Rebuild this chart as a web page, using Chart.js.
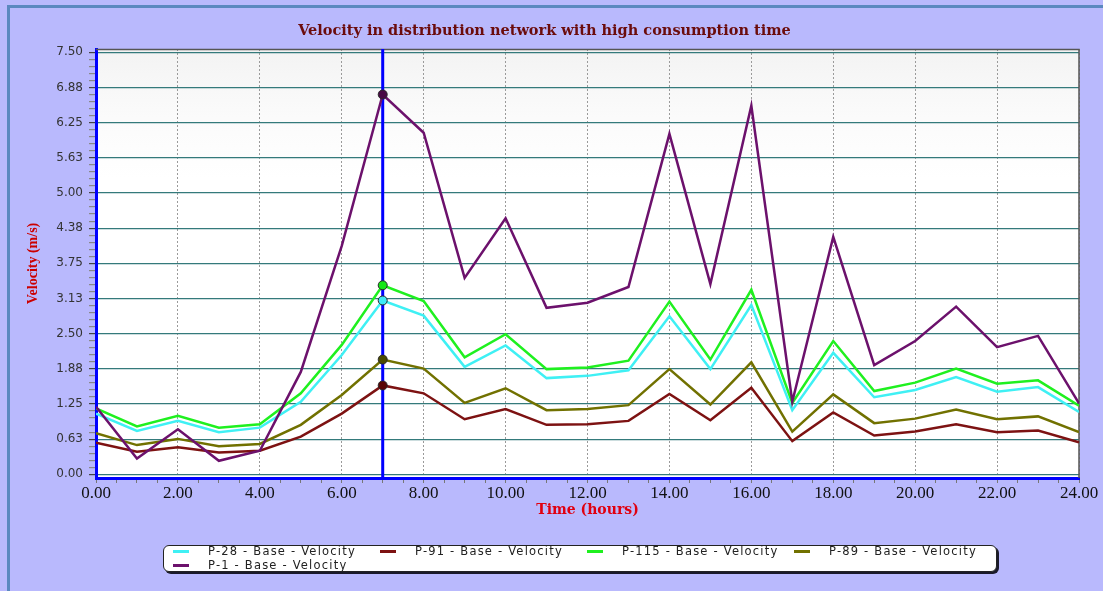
<!DOCTYPE html>
<html>
<head>
<meta charset="utf-8">
<script src="https://cdn.jsdelivr.net/npm/chart.js@4.4.0/dist/chart.umd.min.js"></script>
<style>
  html, body { margin: 0; padding: 0; background: #b9b9fd; }
  #wrap { position: relative; width: 1103px; height: 591px; overflow: hidden; }
  #frame { position: absolute; left: 7px; top: 5px; right: -10px; bottom: -10px;
           border-top: 3px solid #5b88c0; border-left: 3px solid #5b88c0; }
  #velChart { position: absolute; left: 0; top: 0; }
  #legend { position: absolute; left: 163px; top: 545px; width: 832px; height: 25px;
            background: #fff; border: 1px solid #222; border-radius: 6px;
            box-shadow: 2px 2px 0 #1a1a2a; }
  .item { position: absolute; height: 13px; font: 11.5px "DejaVu Sans", Verdana, sans-serif;
          letter-spacing: 1.2px; color: #222; white-space: nowrap; line-height: 13px; }
  .item span.sw { position: absolute; left: 0; top: 5px; width: 16px; height: 3px; }
  .item span.tx { position: absolute; left: 35px; top: 0; }
</style>
</head>
<body>
<div id="wrap">
  <div id="frame"></div>
  <canvas id="velChart" width="1103" height="591"></canvas>
  <div id="legend"></div>
</div>
<script>
/*............................Velocity data.................................*/

const hours = [0, 1, 2, 3, 4, 5, 6, 7, 8, 9, 10, 11, 12, 13, 14, 15, 16, 17, 18, 19, 20, 21, 22, 23, 24];
const p28  = [1.08, 0.77, 0.95, 0.75, 0.83, 1.29, 2.12, 3.09, 2.82, 1.91, 2.29, 1.71, 1.75, 1.85, 2.81, 1.87, 3.01, 1.14, 2.16, 1.37, 1.50, 1.73, 1.47, 1.55, 1.11];
const p91  = [0.56, 0.40, 0.48, 0.39, 0.42, 0.67, 1.08, 1.58, 1.44, 0.98, 1.16, 0.88, 0.89, 0.95, 1.43, 0.96, 1.54, 0.59, 1.10, 0.69, 0.76, 0.89, 0.75, 0.78, 0.57];
const p115 = [1.17, 0.85, 1.04, 0.83, 0.89, 1.44, 2.30, 3.36, 3.08, 2.08, 2.49, 1.87, 1.90, 2.02, 3.07, 2.04, 3.28, 1.27, 2.37, 1.48, 1.63, 1.88, 1.61, 1.67, 1.22];
const p89  = [0.73, 0.52, 0.63, 0.50, 0.54, 0.88, 1.41, 2.04, 1.88, 1.27, 1.53, 1.14, 1.16, 1.23, 1.87, 1.24, 1.99, 0.76, 1.42, 0.91, 0.99, 1.15, 0.98, 1.03, 0.75];
const p1   = [1.20, 0.28, 0.80, 0.24, 0.42, 1.82, 4.06, 6.75, 6.07, 3.49, 4.55, 2.96, 3.05, 3.33, 6.05, 3.38, 6.55, 1.29, 4.22, 1.94, 2.37, 2.98, 2.26, 2.46, 1.26];

const seriesNames = ['P-28 - Base - Velocity', 'P-91 - Base - Velocity', 'P-115 - Base - Velocity', 'P-89 - Base - Velocity', 'P-1 - Base - Velocity'];
const yTickValues = [0, 0.625, 1.25, 1.875, 2.5, 3.125, 3.75, 4.375, 5, 5.625, 6.25, 6.875, 7.5];
const xTickValues = [0, 2, 4, 6, 8, 10, 12, 14, 16, 18, 20, 22, 24];
const cursorHour = 7;

/*............................Velocity data.................................*/

const lineColors = ['#3ff0f4', '#7d1212', '#1ff01f', '#717100', '#6c116c'];
const markColors = ['#3feaf8', '#5a0505', '#14e814', '#4b4b00', '#4a0a45'];
const allValues = [p28, p91, p115, p89, p1];
const drawOrder = [2, 4, 1, 3, 0];

const datasets = seriesNames.map((name, i) => ({
  label: name,
  data: hours.map((h, j) => ({ x: h, y: allValues[i][j] })),
  borderColor: lineColors[i],
  backgroundColor: markColors[i],
  borderWidth: 2.5,
  tension: 0,
  order: drawOrder[i],
  pointRadius: c => (c.raw && c.raw.x === cursorHour ? 4.5 : 0),
  pointHoverRadius: 0,
  pointBorderColor: '#2a2a2a',
  pointBorderWidth: 1,
  pointBackgroundColor: markColors[i],
}));

// minor ticks between labelled ones
const yAllTicks = [];
yTickValues.forEach((v, i) => {
  yAllTicks.push(v);
  if (i < yTickValues.length - 1) for (let k = 1; k < 5; k++) yAllTicks.push(v + k * 0.125);
});
const xAllTicks = [];
xTickValues.forEach((v, i) => {
  xAllTicks.push(v);
  if (i < xTickValues.length - 1) for (let k = 1; k < 4; k++) xAllTicks.push(v + k * 0.5);
});
const isMajorY = v => yTickValues.some(t => Math.abs(t - v) < 1e-9);
const isMajorX = v => xTickValues.includes(v);

const plotFrame = {
  id: 'plotFrame',
  beforeDraw(chart) {
    const { ctx, chartArea: a } = chart;
    const g = ctx.createLinearGradient(0, a.top, 0, a.bottom);
    g.addColorStop(0, '#f3f3f3');
    g.addColorStop(0.16, '#fbfbfb');
    g.addColorStop(0.3, '#ffffff');
    g.addColorStop(1, '#ffffff');
    ctx.save();
    ctx.fillStyle = g;
    ctx.fillRect(a.left, a.top, a.right - a.left, a.bottom - a.top);
    ctx.restore();
  },
  beforeDatasetsDraw(chart) {
    const { ctx, chartArea: a, scales } = chart;
    ctx.save();
    ctx.strokeStyle = '#555';
    ctx.lineWidth = 1.5;
    ctx.beginPath();
    ctx.moveTo(a.left, a.top + 0.5);
    ctx.lineTo(a.right, a.top + 0.5);
    ctx.lineTo(a.right, a.bottom);
    ctx.stroke();
    // cursor line
    const cx = scales.x.getPixelForValue(cursorHour);
    ctx.strokeStyle = '#0000ff';
    ctx.lineWidth = 3;
    ctx.beginPath();
    ctx.moveTo(cx, a.top);
    ctx.lineTo(cx, a.bottom);
    ctx.stroke();
    ctx.restore();
  }
};

const config = {
  type: 'line',
  data: { datasets: datasets },
  options: {
    responsive: false,
    animation: false,
    events: [],
    layout: { padding: { left: 10, right: 24, top: 0, bottom: 0 } },
    plugins: {
      legend: { display: false },
      tooltip: { enabled: false },
      title: {
        display: true,
        text: 'Velocity in distribution network with high consumption time',
        color: '#6b0c0c',
        font: { family: '"DejaVu Serif", "Times New Roman", serif', size: 14.5, weight: 'bold' },
        padding: { top: 23, bottom: 8.6 }
      }
    },
    scales: {
      x: {
        type: 'linear',
        min: 0,
        max: 24,
        afterBuildTicks: s => { s.ticks = xAllTicks.map(v => ({ value: v })); },
        afterFit: s => { s.height = 113; },
        ticks: {
          autoSkip: false,
          maxRotation: 0,
          padding: 0,
          color: '#111',
          font: { family: '"Liberation Serif", "Times New Roman", serif', size: 17 },
          callback: v => (isMajorX(v) ? v.toFixed(2) : '')
        },
        grid: {
          color: c => (c.tick && isMajorX(c.tick.value) ? '#9a9a9a' : 'rgba(0,0,0,0)'),
          tickColor: '#777',
          tickLength: 5,
          lineWidth: 1,
          tickWidth: 1
        },
        border: { color: '#0000ff', width: 3, dash: [2, 2] },
        title: {
          display: true,
          text: 'Time (hours)',
          color: '#e00010',
          font: { family: '"DejaVu Serif", "Times New Roman", serif', size: 14, weight: 'bold' },
          padding: { top: 0, bottom: 72.6 }
        }
      },
      y: {
        type: 'linear',
        min: -0.065,
        max: 7.559,
        afterBuildTicks: s => { s.ticks = yAllTicks.map(v => ({ value: v })); },
        afterFit: s => { s.width = 86; },
        ticks: {
          autoSkip: false,
          padding: 6,
          color: '#333',
          font: { family: '"DejaVu Sans", Verdana, sans-serif', size: 12 },
          callback: v => (isMajorY(v) ? v.toFixed(2) : '')
        },
        grid: {
          color: c => (c.tick && isMajorY(c.tick.value) ? '#347a7b' : 'rgba(0,0,0,0)'),
          tickColor: c => (c.tick && isMajorY(c.tick.value) ? '#444' : '#888'),
          tickLength: 7,
          lineWidth: 1.2
        },
        border: { color: '#0000ff', width: 3 },
        title: {
          display: true,
          text: 'Velocity (m/s)',
          color: '#cc0000',
          font: { family: '"Liberation Serif", "Times New Roman", serif', size: 14, weight: 'bold' },
          padding: { top: 15, bottom: 0 }
        }
      }
    }
  },
  plugins: [plotFrame]
};

const ctx = document.getElementById('velChart').getContext('2d');
const velChart = new Chart(ctx, config);

/*..........legend built from the chart's datasets.........*/
const legendEl = document.getElementById('legend');
velChart.data.datasets.forEach((ds, i) => {
  const item = document.createElement('div');
  item.className = 'item';
  item.style.left = (9 + (i % 4) * 207) + 'px';
  item.style.top = (i < 4 ? -1 : 13) + 'px';
  const sw = document.createElement('span');
  sw.className = 'sw';
  sw.style.background = ds.borderColor;
  const tx = document.createElement('span');
  tx.className = 'tx';
  tx.textContent = ds.label;
  item.appendChild(sw);
  item.appendChild(tx);
  legendEl.appendChild(item);
});
</script>
</body>
</html>
